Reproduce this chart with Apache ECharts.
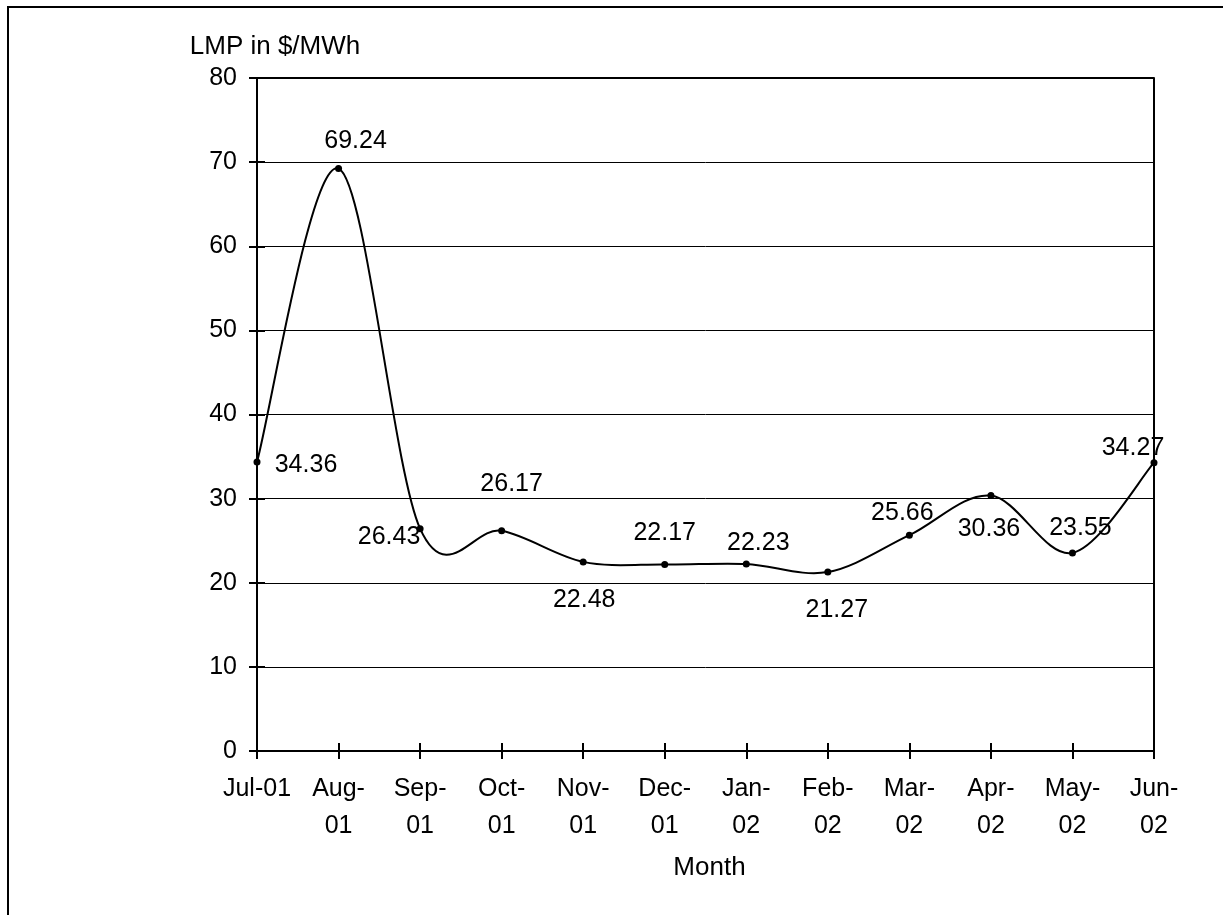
<!DOCTYPE html>
<html>
<head>
<meta charset="utf-8">
<title>LMP in $/MWh by Month</title>
<script src="https://cdn.jsdelivr.net/npm/echarts@6/dist/echarts.min.js"></script>
<style>
  html, body { margin: 0; padding: 0; background: #fff; }
  #chart { width: 1223px; height: 915px; }
</style>
</head>
<body>
<div id="chart"></div>
<script>
// Monthly average locational marginal price, Jul 2001 - Jun 2002
const months = ['Jul-01', 'Aug-\n01', 'Sep-\n01', 'Oct-\n01', 'Nov-\n01', 'Dec-\n01',
                'Jan-\n02', 'Feb-\n02', 'Mar-\n02', 'Apr-\n02', 'May-\n02', 'Jun-\n02'];
const lmp = [34.36, 69.24, 26.43, 26.17, 22.48, 22.17, 22.23, 21.27, 25.66, 30.36, 23.55, 34.27];
const yTicks = { min: 0, max: 80, interval: 10 };

// where each value label sits relative to its point (layout only)
const labelOffsets = [[49, 3], [17, -27], [-31, 8], [10, -47], [1, 38], [0, -31],
                      [12, -21], [9, 38], [-7, -22], [-2, 34], [8, -25], [-21, -15]];

const FONT = '"Liberation Sans", Arial, sans-serif';
const INK = '#000';

const chart = echarts.init(document.getElementById('chart'), null, { renderer: 'canvas' });

const seriesData = lmp.map((v, i) => ({
  value: v,
  label: { offset: labelOffsets[i] }
}));

// Smoothed curve through the points (Catmull-Rom style cubic segments),
// positioned with the grid's own axes via api.coord.
function renderSmoothLine(params, api) {
  if (params.dataIndex !== 0) return null;
  const pts = lmp.map((v, i) => api.coord([i, v]));
  const n = pts.length;
  const k = 1 / 6;
  const children = [];
  for (let i = 0; i < n - 1; i++) {
    const p0 = pts[Math.max(i - 1, 0)];
    const p1 = pts[i];
    const p2 = pts[i + 1];
    const p3 = pts[Math.min(i + 2, n - 1)];
    children.push({
      type: 'bezierCurve',
      shape: {
        x1: p1[0], y1: p1[1],
        cpx1: p1[0] + (p2[0] - p0[0]) * k,
        cpy1: p1[1] + (p2[1] - p0[1]) * k,
        cpx2: p2[0] - (p3[0] - p1[0]) * k,
        cpy2: p2[1] - (p3[1] - p1[1]) * k,
        x2: p2[0], y2: p2[1]
      },
      style: { stroke: INK, lineWidth: 2, fill: null }
    });
  }
  return { type: 'group', children };
}

chart.setOption({
  backgroundColor: '#fff',
  animation: false,
  grid: { left: 257, right: 69, top: 78, bottom: 164, containLabel: false },
  graphic: [
    {
      type: 'polyline',
      shape: { points: [[8, 915], [8, 7], [1223, 7]] },
      style: { stroke: INK, lineWidth: 2, fill: null },
      silent: true
    },
    {
      type: 'text',
      x: 275, y: 47,
      style: {
        text: 'LMP in $/MWh', fill: INK, font: '26px ' + FONT,
        align: 'center', verticalAlign: 'middle'
      },
      silent: true
    }
  ],
  xAxis: [
    {
      type: 'category',
      data: months,
      boundaryGap: false,
      position: 'bottom',
      name: 'Month',
      nameLocation: 'middle',
      nameGap: 104,
      nameTextStyle: { color: INK, fontSize: 26, fontFamily: FONT, padding: [0, 0, 0, 8] },
      axisLine: { show: true, lineStyle: { color: INK, width: 2 } },
      axisTick: { show: true, length: 8, lineStyle: { color: INK, width: 2 } },
      axisLabel: { color: INK, fontSize: 25, fontFamily: FONT, margin: 20, lineHeight: 37, interval: 0 },
      splitLine: { show: false }
    },
    {
      // inner half of the crossing ticks
      type: 'category',
      data: months,
      boundaryGap: false,
      position: 'bottom',
      offset: 0,
      axisLine: { show: false },
      axisTick: { show: true, inside: true, length: 8, lineStyle: { color: INK, width: 2 } },
      axisLabel: { show: false },
      splitLine: { show: false }
    }
  ],
  yAxis: [
    {
      type: 'value',
      min: yTicks.min,
      max: yTicks.max,
      interval: yTicks.interval,
      position: 'left',
      axisLine: { show: true, lineStyle: { color: INK, width: 2 } },
      axisTick: { show: true, length: 8, lineStyle: { color: INK, width: 2 } },
      axisLabel: { color: INK, fontSize: 25, fontFamily: FONT, margin: 20 },
      splitLine: { show: true, lineStyle: { color: INK, width: 1 } }
    },
    {
      type: 'value',
      min: yTicks.min,
      max: yTicks.max,
      interval: yTicks.interval,
      position: 'left',
      offset: 0,
      axisLine: { show: false },
      axisTick: { show: true, inside: true, length: 8, lineStyle: { color: INK, width: 2 } },
      axisLabel: { show: false },
      splitLine: { show: false }
    },
    {
      // right-hand frame of the plot area
      type: 'value',
      min: yTicks.min,
      max: yTicks.max,
      interval: yTicks.interval,
      position: 'right',
      axisLine: { show: true, lineStyle: { color: INK, width: 2 } },
      axisTick: { show: false },
      axisLabel: { show: false },
      splitLine: { show: false }
    }
  ],
  series: [
    {
      type: 'custom',
      xAxisIndex: 0,
      yAxisIndex: 0,
      data: lmp.map((v, i) => [i, v]),
      renderItem: renderSmoothLine,
      silent: true,
      z: 2
    },
    {
      type: 'line',
      data: seriesData,
      xAxisIndex: 0,
      yAxisIndex: 0,
      symbol: 'circle',
      symbolSize: 7,
      itemStyle: { color: INK },
      lineStyle: { width: 0, opacity: 0 },
      z: 3,
      label: {
        show: true,
        position: 'inside',
        align: 'center',
        verticalAlign: 'middle',
        color: INK,
        fontSize: 25,
        fontFamily: FONT,
        formatter: p => p.value.toFixed(2)
      },
      markLine: {
        silent: true,
        symbol: 'none',
        label: { show: false },
        lineStyle: { color: INK, width: 2, type: 'solid' },
        data: [{ yAxis: yTicks.max }]
      }
    }
  ]
});
</script>
</body>
</html>
